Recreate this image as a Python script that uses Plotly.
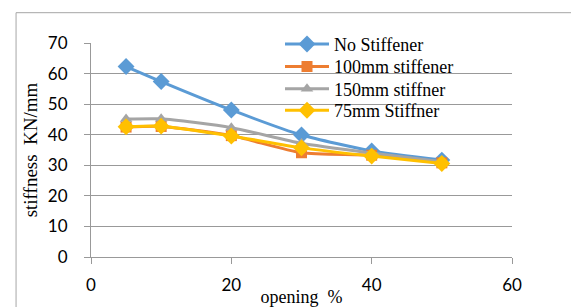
import plotly.graph_objects as go

opening = [5, 10, 20, 30, 40, 50]
no_stiffener = [62.3, 57.4, 48.1, 39.9, 34.7, 31.7]
stiff_100mm = [42.5, 42.7, 39.7, 34.1, 33.3, 30.8]
stiff_150mm = [45.1, 45.2, 42.3, 37.2, 34.0, 31.2]
stiff_75mm = [42.6, 42.8, 39.6, 35.7, 33.0, 30.6]

series = [
    ("No Stiffener", no_stiffener, "#5B9BD5", "diamond", 13),
    ("100mm stiffener", stiff_100mm, "#ED7D31", "square", 11),
    ("150mm stiffner", stiff_150mm, "#A5A5A5", "triangle-up", 11),
    ("75mm Stiffner", stiff_75mm, "#FFC000", "diamond", 13),
]
legend_ids = ["legend", "legend2", "legend3", "legend4"]
legend_centers_px = [44.3, 66.7, 89.0, 110.5]

PLOT_TOP, PLOT_BOTTOM = 43, 257
fig = go.Figure()
for (name, vals, color, sym, size), lid in zip(series, legend_ids):
    fig.add_trace(go.Scatter(
        x=opening, y=vals, name=name, mode="lines+markers",
        line=dict(color=color, width=3, shape="spline", smoothing=0.6),
        marker=dict(symbol=sym, size=size, color=color),
        legend=lid,
    ))

legend_font = dict(family="Liberation Serif", size=18, color="#000")
for lid, cy in zip(legend_ids, legend_centers_px):
    fig.update_layout({lid: dict(
        x=(280 - 91) / 421, y=(PLOT_BOTTOM - cy) / (PLOT_BOTTOM - PLOT_TOP),
        xanchor="left", yanchor="middle", bgcolor="rgba(0,0,0,0)",
        font=legend_font, itemwidth=44)})

grid = "#999999"
tickfont = dict(family="Lato", size=17, color="#000000")
fig.update_layout(
    width=571, height=307,
    margin=dict(l=91, r=59, t=PLOT_TOP, b=307 - PLOT_BOTTOM, autoexpand=False),
    paper_bgcolor="white", plot_bgcolor="white",
    showlegend=True,
    xaxis=dict(range=[0, 60], tickvals=[0, 20, 40, 60], showgrid=False,
               showline=True, linecolor=grid, linewidth=1,
               ticks="outside", ticklen=6, tickcolor=grid, tickfont=tickfont,
               ticklabelstandoff=7, zeroline=False, automargin=False,
               title=dict(text="opening  %", font=dict(family="Liberation Serif", size=18, color="#000"), standoff=2)),
    yaxis=dict(range=[0, 70], tickvals=[0, 10, 20, 30, 40, 50, 60, 70], showgrid=True,
               gridcolor=grid, gridwidth=1, showline=True, linecolor=grid, linewidth=1,
               ticks="outside", ticklen=6, tickcolor=grid, tickfont=tickfont,
               ticklabelstandoff=13, zeroline=False, automargin=False,
               title=dict(text="stiffness  KN/mm", font=dict(family="Liberation Serif", size=19, color="#000"), standoff=5)),
)
# chart frame (border of the chart object)
fig.add_shape(type="line", xref="paper", yref="paper", x0=-0.178, x1=1.5, y0=1.1416, y1=1.1416,
              line=dict(color="#a6a6a6", width=1), layer="above")
fig.add_shape(type="line", xref="paper", yref="paper", x0=-0.178, x1=-0.178, y0=-0.5, y1=1.1416,
              line=dict(color="#a6a6a6", width=1), layer="above")
fig.write_html("out.html", config={"displayModeBar": False},
               post_script="document.body.style.margin='0px';")
